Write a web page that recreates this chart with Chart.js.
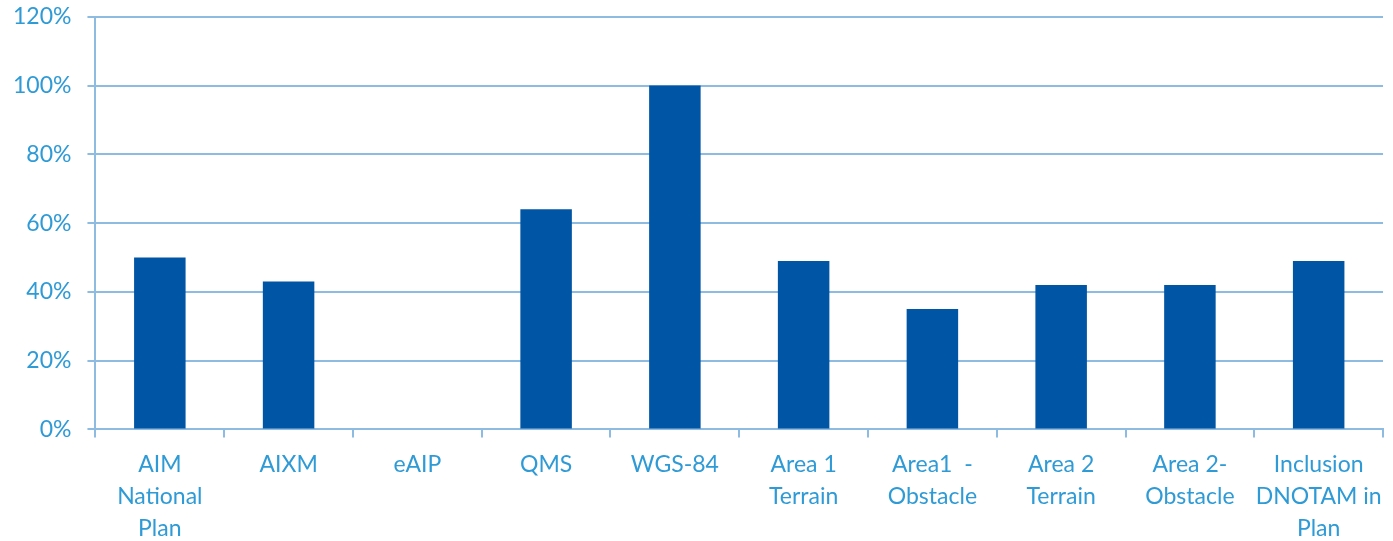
<!DOCTYPE html>
<html>
<head>
<meta charset="utf-8">
<script src="https://cdn.jsdelivr.net/npm/chart.js@4.4.1/dist/chart.umd.min.js"></script>
<style>
  html, body { margin: 0; padding: 0; background: #fff; overflow: hidden; }
  #wrap { position: absolute; left: 0; top: -13px; width: 1393px; height: 569px; }
</style>
</head>
<body>
<div id="wrap"><canvas id="grafico"></canvas></div>
<script>
const categorias = [
    ["AIM", "National", "Plan"],
    "AIXM",
    "eAIP",
    "QMS",
    "WGS-84",
    ["Area 1", "Terrain"],
    ["Area1  -", "Obstacle"],
    ["Area 2", "Terrain"],
    ["Area 2-", "Obstacle"],
    ["Inclusion", "DNOTAM in", "Plan"]
];
const valores = [50, 43, 0, 64, 100, 49, 35, 42, 42, 49];
const ticksY = [0, 20, 40, 60, 80, 100, 120];

const azulTexto = '#2E9AD6';
const azulLinea = '#8DBBE2';

const ctx = document.getElementById('grafico');
new Chart(ctx, {
    type: 'bar',
    data: {
        labels: categorias,
        datasets: [{
            data: valores,
            backgroundColor: '#0055A5',
            borderWidth: 0,
            barPercentage: 0.4,
            categoryPercentage: 1.0
        }]
    },
    options: {
        responsive: true,
        maintainAspectRatio: false,
        animation: false,
        layout: { padding: { top: 0, right: 8, left: -3, bottom: 0 } },
        plugins: {
            legend: { display: false },
            tooltip: { enabled: false }
        },
        scales: {
            x: {
                grid: {
                    offset: true,
                    drawOnChartArea: false,
                    drawTicks: true,
                    tickLength: 8,
                    color: azulLinea,
                    lineWidth: 2
                },
                border: { color: azulLinea, width: 2 },
                ticks: {
                    color: azulTexto,
                    font: { family: 'Lato', size: 23, lineHeight: 1.4 },
                    maxRotation: 0,
                    autoSkip: false,
                    padding: 11
                }
            },
            y: {
                min: 0,
                max: 120,
                afterBuildTicks: axis => { axis.ticks = ticksY.map(v => ({ value: v })); },
                grid: {
                    color: azulLinea,
                    lineWidth: 2,
                    tickLength: 8
                },
                border: { color: azulLinea, width: 2 },
                ticks: {
                    color: azulTexto,
                    font: { family: 'Lato', size: 23 },
                    padding: 16,
                    callback: v => v + '%'
                }
            }
        }
    }
});
</script>
</body>
</html>
